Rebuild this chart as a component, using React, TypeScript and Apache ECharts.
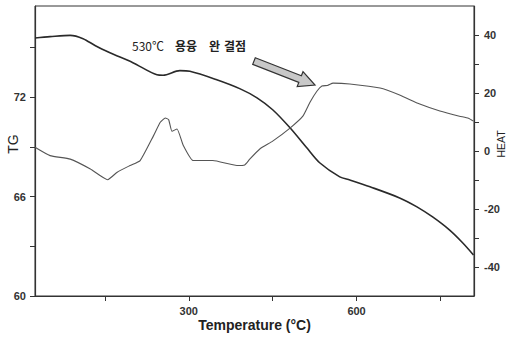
import React, { useEffect, useRef } from "react";
import * as echarts from "echarts";

// TG curve (left axis), temperature in °C
const tgTemps = [25, 52, 88, 111, 133, 159, 200, 243, 254, 284, 302, 350, 392, 422, 450, 481, 511, 534, 570, 588, 624, 677, 708, 736, 766, 790, 809];
const tgValues = [75.57, 75.65, 75.73, 75.53, 75.1, 74.68, 74.08, 73.35, 73.32, 73.6, 73.56, 73.05, 72.5, 71.96, 71.24, 70.15, 68.94, 68.04, 67.19, 67.0, 66.59, 65.92, 65.38, 64.77, 63.99, 63.2, 62.48];

// HEAT curve (right axis)
const heatTemps = [25, 52, 88, 124, 155, 172, 195, 213, 237, 249, 258, 264, 270, 279, 290, 308, 343, 386, 400, 409, 427, 450, 481, 504, 517, 529, 538, 548, 558, 588, 642, 677, 713, 749, 784, 800, 809];
const heatValues = [1.3, -1.6, -2.8, -6.2, -9.9, -7.3, -5.0, -3.3, 5.3, 9.9, 11.4, 10.8, 6.8, 7.6, 2.0, -3.3, -3.3, -5.0, -4.8, -2.8, 0.7, 3.4, 7.9, 12.0, 16.9, 20.6, 22.4, 22.6, 23.4, 23.1, 21.7, 19.3, 16.2, 13.8, 12.0, 11.3, 10.3];

const xTicks = [150, 300, 450, 600, 750];
const xLabels = [300, 600];
const tgTicks = [60, 63, 66, 69, 72, 75];
const tgLabels = [60, 66, 72];
const heatTicks = [-40, -30, -20, -10, 0, 10, 20, 30, 40];
const heatLabels = [-40, -20, 0, 20, 40];

const xName = "Temperature (°C)";
const tgName = "TG";
const heatName = "HEAT";
const annotationWords = ["530℃", "용융", "완", "결점"];

const FONT = '"Liberation Sans", Arial, sans-serif';
const KFONT = '"Noto Sans CJK KR", sans-serif';
const AX = "#333";

export default function App() {
  const ref = useRef<HTMLDivElement>(null);
  useEffect(() => {
    document.body.style.margin = "0";
    const chart = echarts.init(ref.current!, null, { renderer: "svg" });
    const labelStyle = { color: AX, fontFamily: FONT, fontSize: 11, fontWeight: "bold" as const };
    const wordX = [132, 175, 209, 224];
    chart.setOption({
      animation: false,
      backgroundColor: "#fff",
      grid: {
        left: 35, right: 32, top: 6, bottom: 41,
        show: true, borderColor: AX, borderWidth: 1,
        outerBoundsMode: "none",
      },
      xAxis: {
        type: "value", min: 25, max: 810,
        name: xName, nameLocation: "middle", nameGap: 22, nameMoveOverlap: false,
        nameTextStyle: { color: "#222", fontFamily: FONT, fontSize: 14, fontWeight: "bold" },
        axisLine: { show: true, onZero: false, lineStyle: { color: AX, width: 1.2 } },
        axisTick: { show: true, inside: false, length: 5, customValues: xTicks, lineStyle: { color: AX } },
        axisLabel: { ...labelStyle, margin: 9, customValues: xLabels },
        splitLine: { show: false },
      },
      yAxis: [
        {
          type: "value", min: 60, max: 77.5, position: "left",
          name: tgName, nameLocation: "middle", nameGap: 15, nameMoveOverlap: false,
          nameTextStyle: { color: "#222", fontFamily: FONT, fontSize: 14, padding: [0, 0, 0, 14] },
          axisLine: { show: true, onZero: false, lineStyle: { color: AX, width: 1.2 } },
          axisTick: { show: true, length: 5, customValues: tgTicks, lineStyle: { color: AX } },
          axisLabel: { ...labelStyle, margin: 9, customValues: tgLabels },
          splitLine: { show: false },
        },
        {
          type: "value", min: -50, max: 50, position: "right",
          name: heatName, nameLocation: "middle", nameGap: 21, nameMoveOverlap: false,
          nameTextStyle: { color: "#222", fontFamily: FONT, fontSize: 10.5, padding: [0, 0, 0, 14] },
          axisLine: { show: true, onZero: false, lineStyle: { color: AX, width: 1.2 } },
          axisTick: { show: true, length: 5, customValues: heatTicks, lineStyle: { color: AX } },
          axisLabel: { ...labelStyle, margin: 10, customValues: heatLabels },
          splitLine: { show: false },
        },
      ],
      series: [
        {
          type: "line", yAxisIndex: 0, showSymbol: false, smooth: 0.3,
          data: tgTemps.map((t, i) => [t, tgValues[i]]),
          lineStyle: { color: "#2a2a2a", width: 1.6 },
        },
        {
          type: "line", yAxisIndex: 1, showSymbol: false, smooth: 0.15,
          data: heatTemps.map((t, i) => [t, heatValues[i]]),
          lineStyle: { color: "#555", width: 1.1 },
        },
      ],
      graphic: [
        ...annotationWords.map((w, i) => ({
          type: "text", x: wordX[i], y: 45,
          style: {
            text: w, fill: "#222", verticalAlign: "middle",
            font: (i === 0 ? "normal 12px " : "bold 12px ") + KFONT,
          },
        })),
        {
          type: "polygon",
          shape: {
            points: [[255.3, 57.7], [301.4, 75.8], [303, 71.7], [315, 85], [297.2, 86.5], [298.8, 82.4], [252.7, 64.3]],
          },
          style: { fill: "#c8c8c8", stroke: "#333", lineWidth: 1.2 },
        },
      ],
    });
    return () => chart.dispose();
  }, []);
  return <div ref={ref} style={{ width: 506, height: 337 }} />;
}
